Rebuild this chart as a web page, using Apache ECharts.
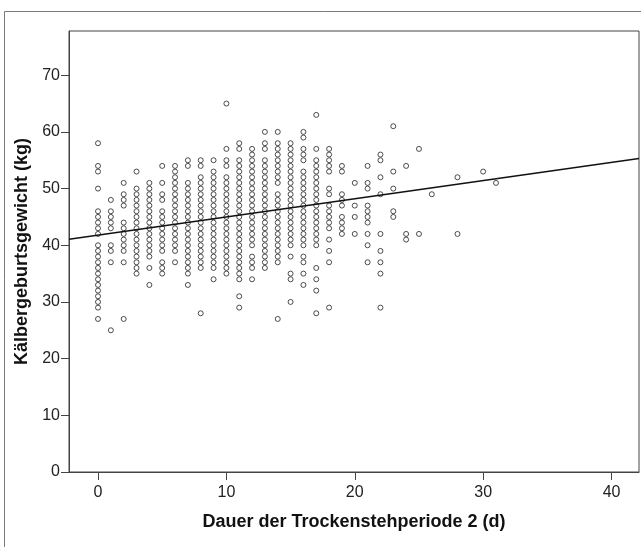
<!DOCTYPE html>
<html>
<head>
<meta charset="utf-8">
<script src="https://cdn.jsdelivr.net/npm/echarts@6/dist/echarts.min.js"></script>
<style>
  html, body { margin: 0; padding: 0; background: #fff; }
  #chart { width: 641px; height: 547px; }
</style>
</head>
<body>
<div id="chart"></div>
<script>
// Dauer der Trockenstehperiode 2 (d) -> Kälbergeburtsgewicht (kg), one list per day
var days = [0, 1, 2, 3, 4, 5, 6, 7, 8, 9, 10, 11, 12, 13, 14, 15, 16, 17, 18, 19, 20, 21, 22, 23, 24, 25, 26, 28, 30, 31];
var weights = [
    [58, 54, 53, 50, 46, 45, 44, 43, 42, 40, 39, 38, 37, 36, 35, 34, 33, 32, 31, 30, 29, 27],
    [48, 46, 45, 44, 43, 40, 39, 37, 25],
    [51, 49, 48, 47, 44, 43, 42, 41, 40, 39, 37, 27],
    [53, 50, 49, 48, 47, 46, 45, 44, 43, 42, 41, 40, 39, 38, 37, 36, 35],
    [51, 50, 49, 48, 47, 46, 45, 44, 43, 42, 41, 40, 39, 38, 36, 33],
    [54, 51, 49, 48, 46, 45, 44, 43, 42, 41, 40, 39, 37, 36, 35],
    [54, 53, 52, 51, 50, 49, 48, 47, 46, 45, 44, 43, 42, 41, 40, 39, 37],
    [55, 54, 51, 50, 49, 48, 47, 46, 45, 44, 43, 42, 41, 40, 39, 38, 37, 36, 35, 33],
    [55, 54, 52, 51, 50, 49, 48, 47, 46, 45, 44, 43, 42, 41, 40, 39, 38, 37, 36, 28],
    [55, 53, 52, 51, 50, 49, 48, 47, 46, 45, 44, 43, 42, 41, 40, 39, 38, 37, 36, 34],
    [65, 57, 55, 54, 52, 51, 50, 49, 48, 47, 46, 45, 44, 43, 42, 41, 40, 39, 38, 37, 36, 35],
    [58, 57, 55, 54, 53, 52, 51, 50, 49, 48, 47, 46, 45, 44, 43, 42, 41, 40, 39, 38, 37, 36, 35, 34, 31, 29],
    [57, 56, 55, 54, 53, 52, 51, 50, 49, 48, 47, 46, 45, 44, 43, 42, 41, 40, 38, 37, 36, 34],
    [60, 58, 57, 55, 54, 53, 52, 51, 50, 49, 48, 47, 46, 45, 44, 43, 42, 41, 40, 39, 38, 37, 36],
    [60, 58, 57, 56, 55, 54, 53, 52, 51, 49, 48, 47, 46, 45, 44, 43, 42, 41, 40, 39, 38, 37, 27],
    [58, 57, 56, 55, 54, 53, 52, 51, 50, 49, 48, 47, 46, 45, 44, 43, 42, 41, 40, 38, 35, 34, 30],
    [60, 59, 57, 56, 55, 53, 52, 51, 50, 49, 48, 47, 46, 45, 44, 43, 42, 41, 40, 38, 37, 35, 33],
    [63, 57, 55, 54, 53, 52, 51, 50, 49, 48, 47, 46, 45, 44, 43, 42, 41, 40, 36, 34, 32, 28],
    [57, 56, 55, 54, 53, 50, 49, 47, 46, 45, 44, 43, 41, 39, 37, 29],
    [54, 53, 49, 48, 47, 45, 44, 43, 42],
    [51, 47, 45, 42],
    [54, 51, 50, 47, 46, 45, 44, 42, 40, 37],
    [56, 55, 52, 49, 42, 39, 37, 35, 29],
    [61, 53, 50, 46, 45],
    [54, 42, 41],
    [57, 42],
    [49],
    [52, 42],
    [53],
    [51]
];
var xTicks = [0, 10, 20, 30, 40];
var yTicks = [0, 10, 20, 30, 40, 50, 60, 70];
var fitIntercept = 41.77;
var fitSlope = 0.321;

var xMin = -2.26, xMax = 42.14;
var yMin = 0, yMax = 77.8;

var points = [];
days.forEach(function (d, i) {
    weights[i].forEach(function (w) { points.push([d, w]); });
});
var fitLine = [
    [xMin, fitIntercept + fitSlope * xMin],
    [xMax, fitIntercept + fitSlope * xMax]
];

var font = '"Liberation Sans", Arial, sans-serif';
var chart = echarts.init(document.getElementById('chart'));
chart.setOption({
    animation: false,
    graphic: [{
        type: 'rect',
        shape: { x: 4.5, y: 11.5, width: 700, height: 600 },
        style: { fill: 'none', stroke: '#7a7a7a', lineWidth: 1 },
        silent: true
    }],
    grid: {
        left: 69, right: 2, top: 31, bottom: 75,
        show: true, borderColor: '#444', borderWidth: 1, backgroundColor: 'transparent'
    },
    xAxis: {
        type: 'value', min: xMin, max: xMax,
        name: 'Dauer der Trockenstehperiode 2 (d)',
        nameLocation: 'middle', nameGap: 41,
        nameTextStyle: { fontFamily: font, fontSize: 18, fontWeight: 'bold', color: '#111' },
        axisLine: { show: true, onZero: false, lineStyle: { color: '#444', width: 1 } },
        axisTick: { show: true, length: 8, customValues: xTicks, lineStyle: { color: '#444' } },
        axisLabel: { customValues: xTicks, fontFamily: font, fontSize: 16, color: '#222', margin: 13 },
        splitLine: { show: false }
    },
    yAxis: {
        type: 'value', min: yMin, max: yMax,
        name: 'Kälbergeburtsgewicht (kg)',
        nameLocation: 'middle', nameGap: 38,
        nameTextStyle: { fontFamily: font, fontSize: 18, fontWeight: 'bold', color: '#111' },
        axisLine: { show: true, onZero: false, lineStyle: { color: '#444', width: 1 } },
        axisTick: { show: true, length: 8, customValues: yTicks, lineStyle: { color: '#444' } },
        axisLabel: { customValues: yTicks, fontFamily: font, fontSize: 16, color: '#222', margin: 9 },
        splitLine: { show: false }
    },
    series: [
        {
            type: 'scatter',
            data: points,
            symbol: 'circle',
            symbolSize: 5,
            itemStyle: { color: '#fff', borderColor: '#222', borderWidth: 1 },
            z: 2
        },
        {
            type: 'line',
            data: fitLine,
            showSymbol: false,
            symbol: 'none',
            lineStyle: { color: '#111', width: 1.5 },
            z: 3
        }
    ]
});
</script>
</body>
</html>
